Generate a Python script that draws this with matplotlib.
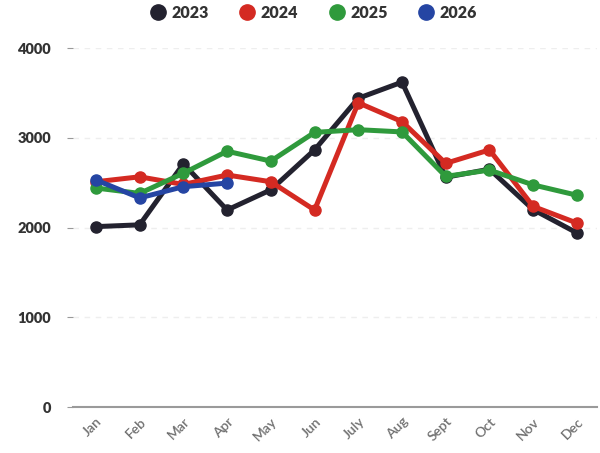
import numpy as np
import matplotlib
matplotlib.use("Agg")
import matplotlib.pyplot as plt

# monthly values
months = ["Jan", "Feb", "Mar", "Apr", "May", "Jun", "July", "Aug", "Sept", "Oct", "Nov", "Dec"]
y2023 = [2010, 2030, 2710, 2195, 2420, 2865, 3440, 3620, 2560, 2650, 2200, 1940]
y2024 = [2510, 2565, 2480, 2585, 2510, 2195, 3390, 3180, 2715, 2865, 2235, 2050]
y2025 = [2440, 2380, 2605, 2850, 2740, 3060, 3090, 3065, 2570, 2640, 2475, 2360]
y2026 = [2530, 2330, 2455, 2495]

series = [("2023", y2023, "#23222f"),
          ("2024", y2024, "#d42a22"),
          ("2025", y2025, "#2f9a3c"),
          ("2026", y2026, "#2545a3")]

plt.rcParams['font.family'] = ['Lato', 'DejaVu Sans']

fig = plt.figure(figsize=(6, 4.53), dpi=100)
ax = fig.add_axes([0.122, 0.1015, 0.873, 0.7925])

x = np.arange(len(months))
for name, vals, col in series:
    ax.plot(x[:len(vals)], vals, color=col, lw=3.6, marker="o", ms=8,
            label=name, solid_joinstyle="round")

ax.set_ylim(0, 4000)
ax.set_xlim(-0.52, 11.46)
ax.set_yticks([0, 1000, 2000, 3000, 4000])
ax.set_xticks(x)
ax.set_xticklabels(months, rotation=45, ha="right", rotation_mode="anchor",
                   color="#707070", fontsize=10, fontweight="semibold")
for lab in ax.get_yticklabels():
    lab.set_fontweight("heavy")
    lab.set_fontsize(10.5)
    lab.set_color("#333333")

ax.grid(axis="y", color="#eeeeee", lw=1, ls=(0, (4, 4)))
ax.set_axisbelow(True)
for s in ["left", "right", "top"]:
    ax.spines[s].set_visible(False)
ax.spines["bottom"].set_color("#9a9a9a")
ax.spines["bottom"].set_linewidth(1.5)
ax.tick_params(axis="y", length=4, color="#999999", pad=12)
ax.tick_params(axis="x", length=0, pad=6)

leg = ax.legend(loc="lower center", bbox_to_anchor=(0.46, 1.035), ncol=4,
                frameon=False, handlelength=0.8, handletextpad=0.45,
                columnspacing=2.0, prop={"weight": "heavy", "size": 11.5})
for h in leg.legend_handles:
    h.set_linestyle("")
    h.set_markersize(11)
for t in leg.get_texts():
    t.set_color("#333333")

fig.savefig("out.png", dpi=100)
